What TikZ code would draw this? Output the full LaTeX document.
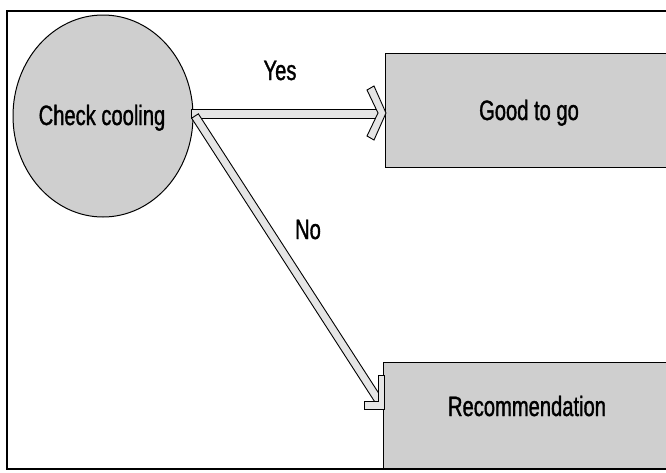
\documentclass[tikz,border=0pt]{standalone}
\usepackage{fontspec}
\newfontfamily\lblfont{Liberation Sans}[FakeStretch=0.72,FakeBold=1.2]
\usetikzlibrary{calc}
\tikzset{
  lbl/.style={anchor=base, inner sep=0pt, font=\lblfont\fontsize{28}{30}\selectfont},
  shapefill/.style={draw=black, line width=1pt, fill=black!19},
  shaftfill/.style={draw=black, line width=0.9pt, fill=black!10, line join=miter},
}
\begin{document}
\begin{tikzpicture}[x=1pt, y=-1pt]
  \useasboundingbox (0,0) rectangle (666,472);
  % outer frame
  \draw[line width=1.3pt] (7,11) rectangle (700,469);

  % decision circle and the two result boxes
  \fill[shapefill] (103,116) ellipse [x radius=90, y radius=101];
  \coordinate (cc) at (103,116);
  \draw[shapefill] (385,53) rectangle (700,167);
  \draw[shapefill] (383,362) rectangle (700,468);

  % block arrow "Yes"
  \coordinate (ys) at (191,113.5);
  \coordinate (ye) at (382,113.5);
  \draw[shaftfill] ($(ys)!4.5pt!90:(ye)$) -- ($(ye)!4.5pt!-90:(ys)$)
    -- ($(ye)!4.5pt!90:(ys)$) -- ($(ys)!4.5pt!-90:(ye)$) -- cycle;
  \draw[shaftfill] (386,113) -- (374,86) -- (367,90) -- (378,113)
    -- (367,136) -- (374,140) -- cycle;

  % block arrow "No"
  \coordinate (ns) at (195,116);
  \coordinate (ne) at (379,401);
  \draw[shaftfill] ($(ns)!4pt!90:(ne)$) -- ($(ne)!4pt!-90:(ns)$)
    -- ($(ne)!4pt!90:(ns)$) -- ($(ns)!4pt!-90:(ne)$) -- cycle;
  \draw[shaftfill] (378,375) -- (384,375) -- (384,409) -- (364,409)
    -- (364,401) -- (378,401) -- cycle;

  % labels
  \node[lbl] (check) at (102,125) {Check cooling};
  \node[lbl] (good) at (529,120) {Good to go};
  \node[lbl] (rec) at (527,416) {Recommendation};
  \node[lbl] (yes) at (280,80) {Yes};
  \node[lbl] (no) at (308,239) {No};
\end{tikzpicture}
\end{document}
